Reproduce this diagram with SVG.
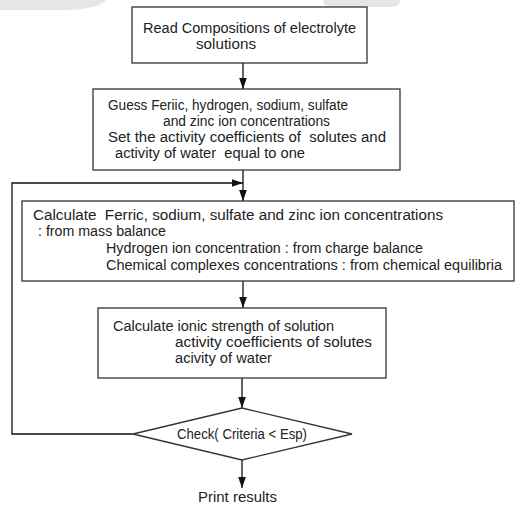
<svg xmlns="http://www.w3.org/2000/svg" width="515" height="505" viewBox="0 0 515 505">
<style>
.box{fill:#fff;stroke:#333;stroke-width:1.3}
.ln{fill:none;stroke:#111;stroke-width:1.3}
text{font-family:"Liberation Sans",Arial,sans-serif;font-size:14px;fill:#222}
.wm{fill:#e6e6e6}
</style>
<defs>
<marker id="ah" viewBox="0 0 10 10" refX="10" refY="5" markerWidth="11" markerHeight="11" markerUnits="userSpaceOnUse" orient="auto">
<path d="M0,1.5 L10,5 L0,8.5 Z" fill="#111"/>
</marker>
</defs>
<rect width="515" height="505" fill="#fff"/>
<path class="wm" d="M0,0 H106 Q100,8 70,10 L0,10 Z"/>
<path class="wm" d="M323,0 H400 Q400,7 392,7 H331 Q323,7 323,0 Z"/>
<g id="connectors">
<line class="ln" x1="243" y1="63" x2="243" y2="89" marker-end="url(#ah)"/>
<line class="ln" x1="243" y1="170" x2="243" y2="201" marker-end="url(#ah)"/>
<polyline class="ln" points="133,434 12,434 12,183 243,183" marker-end="url(#ah)"/>
<line class="ln" x1="243" y1="281" x2="243" y2="308" marker-end="url(#ah)"/>
<line class="ln" x1="242" y1="378" x2="242" y2="408" marker-end="url(#ah)"/>
<line class="ln" x1="242" y1="460" x2="242" y2="488" marker-end="url(#ah)"/>
</g>
<g id="read">
<rect class="box" x="132" y="7" width="235" height="56"/>
<text x="143" y="33" textLength="213" lengthAdjust="spacingAndGlyphs">Read Compositions of electrolyte</text>
<text x="196" y="49" textLength="60" lengthAdjust="spacingAndGlyphs">solutions</text>
</g>
<g id="guess">
<rect class="box" x="93" y="89" width="307" height="81"/>
<text x="108" y="110" textLength="240" lengthAdjust="spacingAndGlyphs">Guess Feriic, hydrogen, sodium, sulfate</text>
<text x="163" y="126" textLength="167" lengthAdjust="spacingAndGlyphs">and zinc ion concentrations</text>
<text x="108" y="142" textLength="278" lengthAdjust="spacingAndGlyphs" xml:space="preserve">Set the activity coefficients of  solutes and</text>
<text x="115" y="158" textLength="190" lengthAdjust="spacingAndGlyphs" xml:space="preserve">activity of water  equal to one</text>
</g>
<g id="calc1">
<rect class="box" x="22" y="201" width="492" height="80"/>
<text x="33" y="220" textLength="410" lengthAdjust="spacingAndGlyphs" xml:space="preserve">Calculate  Ferric, sodium, sulfate and zinc ion concentrations</text>
<text x="38" y="236" textLength="128" lengthAdjust="spacingAndGlyphs">: from mass balance</text>
<text x="106" y="253" textLength="317" lengthAdjust="spacingAndGlyphs">Hydrogen ion concentration : from charge balance</text>
<text x="106" y="270" textLength="396" lengthAdjust="spacingAndGlyphs">Chemical complexes concentrations : from chemical equilibria</text>
</g>
<g id="calc2">
<rect class="box" x="98" y="308" width="288" height="70"/>
<text x="113" y="331" textLength="221" lengthAdjust="spacingAndGlyphs">Calculate ionic strength of solution</text>
<text x="175" y="347" textLength="197" lengthAdjust="spacingAndGlyphs">activity coefficients of solutes</text>
<text x="175" y="363" textLength="97" lengthAdjust="spacingAndGlyphs">acivity of water</text>
</g>
<g id="check">
<polygon class="box" points="242,408 352,434 242,460 133,434"/>
<text x="177" y="439" textLength="130" lengthAdjust="spacingAndGlyphs" xml:space="preserve">Check( Criteria &lt; Esp)</text>
</g>
<g id="print">
<text x="198" y="502" textLength="79" lengthAdjust="spacingAndGlyphs">Print results</text>
</g>
</svg>
